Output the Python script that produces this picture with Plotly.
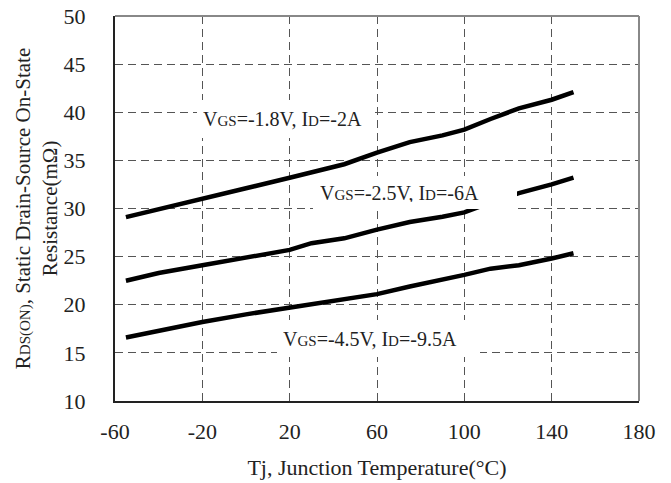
import plotly.graph_objects as go

# Junction temperature (°C)
tj = [-55, -40, -20, 0, 20, 30, 45, 60, 75, 90, 100, 112, 125, 140, 150]

# Rds(on) (mOhm) for three bias conditions
rds_vgs_1p8 = [29.1, 29.95, 31.0, 32.1, 33.2, 33.75, 34.6, 35.8, 36.9, 37.6, 38.2, 39.3, 40.4, 41.3, 42.1]
rds_vgs_2p5 = [22.5, 23.3, 24.1, 24.9, 25.7, 26.4, 26.9, 27.8, 28.6, 29.15, 29.6, 30.6, 31.6, 32.5, 33.2]
rds_vgs_4p5 = [16.6, 17.3, 18.2, 19.0, 19.7, 20.0, 20.5, 21.1, 21.9, 22.6, 23.1, 23.75, 24.1, 24.8, 25.35]

x_ticks = [-60, -20, 20, 60, 100, 140, 180]
y_ticks = [10, 15, 20, 25, 30, 35, 40, 45, 50]

labels = [
    "V<span style='font-size:15px'>GS</span>=-1.8V, I<span style='font-size:15px'>D</span>=-2A",
    "V<span style='font-size:15px'>GS</span>=-2.5V, I<span style='font-size:15px'>D</span>=-6A",
    "V<span style='font-size:15px'>GS</span>=-4.5V, I<span style='font-size:15px'>D</span>=-9.5A",
]
label_x = [18.4, 77.5, 60.7]
label_y = [39.3, 31.7, 16.5]
label_w = [166, 190, 191]
label_h = [26, 19, 25]
label_pad = [6, 7, 6]

FONT = "Liberation Serif"
TXT = "#222222"

fig = go.Figure()
for ys in (rds_vgs_1p8, rds_vgs_2p5, rds_vgs_4p5):
    fig.add_trace(go.Scatter(x=tj, y=ys, mode="lines",
                             line=dict(color="black", width=4.5),
                             showlegend=False, hoverinfo="skip"))

for t, ax, ay, w, h, p in zip(labels, label_x, label_y, label_w, label_h, label_pad):
    fig.add_annotation(x=ax, y=ay, xref="x", yref="y", text=t, showarrow=False,
                       xanchor="center", yanchor="middle", align="left",
                       width=w, height=h, borderpad=p, borderwidth=0,
                       bgcolor="white", font=dict(family=FONT, size=20, color=TXT))

fig.update_layout(
    width=671, height=483,
    margin=dict(l=115, r=32, t=16, b=82),
    paper_bgcolor="white", plot_bgcolor="white",
    font=dict(family=FONT, size=22, color=TXT),
    xaxis=dict(
        range=[-60, 180], tickvals=x_ticks, ticktext=[str(v) for v in x_ticks],
        showgrid=True, gridcolor="#555555", gridwidth=1, griddash="8px,5px",
        zeroline=False, showline=True, linecolor="#222222", linewidth=2,
        ticks="", ticklabelstandoff=10, automargin=False, ticklabeloverflow="allow",
        title=dict(text="Tj, Junction Temperature(°C)", standoff=16,
                   font=dict(family=FONT, size=22, color=TXT)),
        tickfont=dict(family=FONT, size=22, color=TXT),
    ),
    yaxis=dict(
        range=[10, 50], tickvals=y_ticks, ticktext=[str(v) for v in y_ticks],
        showgrid=True, gridcolor="#555555", gridwidth=1, griddash="8px,5px",
        zeroline=False, showline=True, linecolor="#222222", linewidth=2,
        ticks="", ticklabelstandoff=23, automargin=False, ticklabeloverflow="allow",
        title=dict(text="R<span style='font-size:15px'>DS(ON)</span>, Static Drain-Source On-State<br>Resistance(mΩ)",
                   standoff=0, font=dict(family=FONT, size=21, color=TXT)),
        tickfont=dict(family=FONT, size=22, color=TXT),
    ),
    shapes=[
        dict(type="line", xref="paper", yref="paper", x0=0, x1=1, y0=1, y1=1,
             line=dict(color="#888888", width=2), layer="above"),
        dict(type="line", xref="paper", yref="paper", x0=1, x1=1, y0=0, y1=1,
             line=dict(color="#888888", width=2), layer="above"),
    ],
)

fig.write_html("out.html", config={"displayModeBar": False},
               post_script="document.body.style.margin='0px';")
